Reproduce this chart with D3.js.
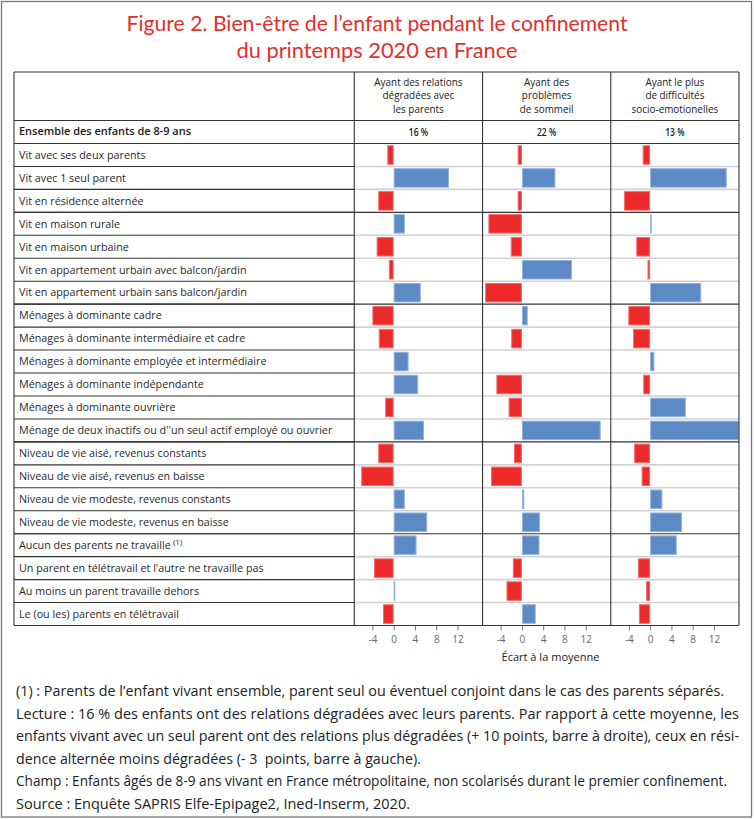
<!DOCTYPE html>
<html><head><meta charset="utf-8">
<script src="https://cdn.jsdelivr.net/npm/d3@7"></script>
<style>body{margin:0;background:#fff}svg{display:block}text{font-family:"Open Sans",sans-serif}</style>
</head><body><svg id="c" width="754" height="819"></svg>
<script>
// ---- data ----
const categories = [
  "Vit avec ses deux parents",
  "Vit avec 1 seul parent",
  "Vit en résidence alternée",
  "Vit en maison rurale",
  "Vit en maison urbaine",
  "Vit en appartement urbain avec balcon/jardin",
  "Vit en appartement urbain sans balcon/jardin",
  "Ménages à dominante cadre",
  "Ménages à dominante intermédiaire et cadre",
  "Ménages à dominante employée et intermédiaire",
  "Ménages à dominante indépendante",
  "Ménages à dominante ouvrière",
  "Ménage de deux inactifs ou d''un seul actif employé ou ouvrier",
  "Niveau de vie aisé, revenus constants",
  "Niveau de vie aisé, revenus en baisse",
  "Niveau de vie modeste, revenus constants",
  "Niveau de vie modeste, revenus en baisse",
  "Aucun des parents ne travaille",
  "Un parent en télétravail et l'autre ne travaille pas",
  "Au moins un parent travaille dehors",
  "Le (ou les) parents en télétravail"
];
const relations = [-1.2, 10.4, -2.9, 2.1, -3.2, -0.9, 5.1, -4.0, -2.8, 2.8, 4.6, -1.6, 5.7, -2.9, -6.1, 2.1, 6.3, 4.3, -3.7, 0.3, -2.0];
const sommeil   = [-0.8, 6.3, -0.8, -6.3, -2.1, 9.4, -6.9, 1.1, -2.0, 0, -4.8, -2.5, 14.8, -1.5, -5.8, 0.45, 3.4, 3.3, -1.7, -2.9, 2.6];
const socio     = [-1.4, 14.4, -4.9, 0.3, -2.6, -0.5, 9.6, -4.1, -3.2, 0.8, -1.3, 6.7, 16.7, -3.0, -1.6, 2.3, 6.0, 5.0, -2.3, -0.75, -2.1];
const panelTitles = [
  ["Ayant des relations", "dégradées avec", "les parents"],
  ["Ayant des", "problèmes", "de sommeil"],
  ["Ayant le plus", "de difficultés", "socio-emotionelles"]
];
const averages = ["16 %", "22 %", "13 %"];
const tickValues = [-4, 0, 4, 8, 12];
const groupEnds = [2, 6, 12, 16]; // index of last row in each group
const titleLines = ["Figure 2. Bien-être de l’enfant pendant le confinement", "du printemps 2020 en France"];
const notes = [
  "(1) : Parents de l’enfant vivant ensemble, parent seul ou éventuel conjoint dans le cas des parents séparés.",
  "Lecture : 16 % des enfants ont des relations dégradées avec leurs parents. Par rapport à cette moyenne, les",
  "enfants vivant avec un seul parent ont des relations plus dégradées (+ 10 points, barre à droite), ceux en rési-",
  "dence alternée moins dégradées (- 3  points, barre à gauche).",
  "Champ : Enfants âgés de 8-9 ans vivant en France métropolitaine, non scolarisés durant le premier confinement.",
  "Source : Enquête SAPRIS Elfe-Epipage2, Ined-Inserm, 2020."
];
const series = [relations, sommeil, socio];

// ---- layout ----
const svg = d3.select("#c");
const tableL = 14, tableR = 739, labelR = 354.3;
const panelW = (tableR - labelR) / 3;
const headerTop = 72, ensTop = 120.5, dataTop = 143.5, dataBot = 625.5;
const red = "#ec2a2a", redStroke = "#f36b6b", blue = "#5b8ac5", blueStroke = "#93b3df";

svg.append("rect").attr("x", 0).attr("y", 0).attr("width", 754).attr("height", 819).attr("fill", "#fff");
svg.append("rect").attr("x", 1.5).attr("y", 1.5).attr("width", 750).attr("height", 815.5)
  .attr("fill", "none").attr("stroke", "#777").attr("stroke-width", 1.3);

// title
const titleW = [501, 281];
titleLines.forEach((t, i) => {
  svg.append("text").attr("x", 377).attr("y", 31 + i * 26.6).attr("text-anchor", "middle")
    .attr("fill", "#e2302d").attr("font-size", 22).style("font-family", "Lato, sans-serif")
    .attr("textLength", titleW[i]).attr("lengthAdjust", "spacingAndGlyphs").text(t);
});

const y = d3.scaleBand().domain(categories).range([dataTop, dataBot]).paddingInner(0.15).paddingOuter(0.075);
const step = y.step();

// light grid lines in panels
const bounds = d3.range(1, categories.length).map(i => dataTop + i * step);
svg.append("g").selectAll("line").data(bounds.filter((b, i) => !groupEnds.includes(i))).join("line")
  .attr("x1", labelR).attr("x2", tableR).attr("y1", d => d).attr("y2", d => d)
  .attr("stroke", "#d2d2d2").attr("stroke-width", 1.6);

// panels
series.forEach((vals, p) => {
  const x0 = labelR + p * panelW;
  const x = d3.scaleLinear().domain([-7.4, 16.7]).range([x0, x0 + panelW]);
  const g = svg.append("g");
  g.selectAll("rect").data(vals.map((v, i) => ({ v, c: categories[i] }))).join("rect")
    .attr("x", d => x(Math.min(0, d.v)) + 0.5)
    .attr("width", d => Math.max(0, Math.abs(x(d.v) - x(0)) - 1))
    .attr("y", d => y(d.c) + 0.5).attr("height", y.bandwidth() - 1)
    .attr("fill", d => d.v < 0 ? red : blue)
    .attr("stroke", d => d.v < 0 ? redStroke : blueStroke).attr("stroke-width", 1)
    .style("display", d => d.v === 0 ? "none" : null);
  // axis
  const ax = d3.axisBottom(x).tickValues(tickValues).tickSize(5).tickPadding(5).tickFormat(d => String(d));
  const ag = svg.append("g").attr("transform", `translate(0,${dataBot})`).call(ax);
  ag.select(".domain").remove();
  ag.selectAll(".tick line").attr("stroke", "#777");
  ag.selectAll(".tick text").attr("fill", "#666").attr("font-size", 10).attr("font-family", "Open Sans, sans-serif");
  // header
  const cx = x0 + panelW / 2;
  panelTitles[p].forEach((t, j) => {
    svg.append("text").attr("class", "hdr").attr("x", cx).attr("y", 85.5 + j * 13.5).attr("text-anchor", "middle")
      .attr("font-size", 11.5).attr("fill", "#1a1a1a").text(t);
  });
  svg.append("text").attr("class", "avg").attr("x", cx).attr("y", 135.5).attr("text-anchor", "middle")
    .attr("font-size", 10).attr("font-weight", 600).attr("fill", "#1a1a1a").text(averages[p]);
});

// condense header text
svg.selectAll("text.hdr").each(function () {
  const w = this.getComputedTextLength();
  d3.select(this).attr("textLength", w * 0.86).attr("lengthAdjust", "spacingAndGlyphs");
});
svg.selectAll("text.avg").each(function () {
  const w = this.getComputedTextLength();
  d3.select(this).attr("textLength", w * 0.85).attr("lengthAdjust", "spacingAndGlyphs");
});

// dark lines
const dark = svg.append("g").attr("stroke", "#333").attr("stroke-width", 1.1);
bounds.forEach(b => dark.append("line").attr("x1", tableL).attr("x2", labelR).attr("y1", b).attr("y2", b));
groupEnds.forEach(i => {
  const b = dataTop + (i + 1) * step;
  dark.append("line").attr("x1", tableL).attr("x2", tableR).attr("y1", b).attr("y2", b);
});
[headerTop, ensTop, dataTop, dataBot].forEach(b =>
  dark.append("line").attr("x1", tableL).attr("x2", tableR).attr("y1", b).attr("y2", b));
[tableL, labelR, labelR + panelW, labelR + 2 * panelW, tableR].forEach(xv =>
  dark.append("line").attr("x1", xv).attr("x2", xv).attr("y1", headerTop).attr("y2", dataBot));

// row labels (condensed)
const lg = svg.append("g");
const labels = lg.selectAll("text").data(categories).join("text")
  .attr("x", 0).attr("y", d => y(d) + y.bandwidth() / 2 + 3.8)
  .attr("font-size", 10.5).attr("fill", "#2a2a2a").text(d => d);
labels.filter(d => d === "Aucun des parents ne travaille").append("tspan")
  .attr("dy", -4).attr("font-size", 8).text(" (1)");
const ensT = lg.append("text").attr("x", 0).attr("y", 135.5).attr("font-size", 10)
  .attr("font-weight", 600).attr("fill", "#1a1a1a").text("Ensemble des enfants de 8-9 ans");
const longest = labels.filter(d => d.startsWith("Ménage de deux")).node().getComputedTextLength();
const kL = 314 / longest;
lg.attr("transform", `translate(19,0) scale(${kL},1)`);
ensT.attr("textLength", 172 / kL).attr("lengthAdjust", "spacingAndGlyphs");

// axis title
svg.append("text").attr("x", 550.5).attr("y", 661).attr("text-anchor", "middle").attr("font-size", 11.5)
  .attr("fill", "#222").attr("textLength", 98).attr("lengthAdjust", "spacingAndGlyphs").text("Écart à la moyenne");

// notes
const noteW = [708, 723, 723, 405, 711, 394];
svg.append("g").selectAll("text").data(notes).join("text")
  .attr("x", 16).attr("y", (d, i) => 696 + i * 22.5)
  .attr("font-size", 14).attr("fill", "#222").style("white-space", "pre")
  .attr("textLength", (d, i) => noteW[i]).attr("lengthAdjust", "spacingAndGlyphs").text(d => d);
</script></body></html>
